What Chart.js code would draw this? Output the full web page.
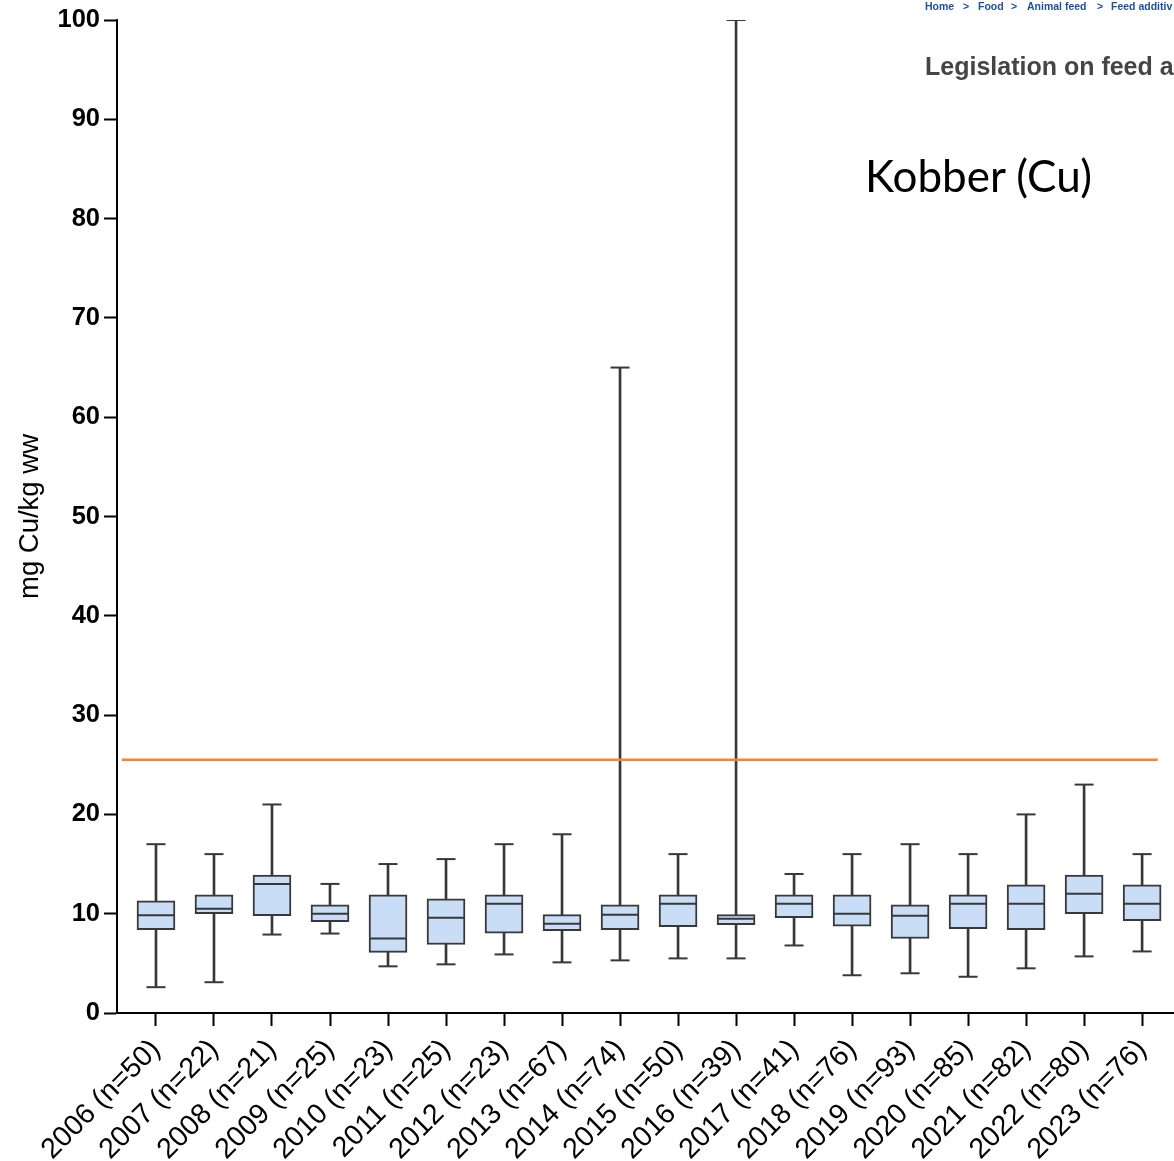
<!DOCTYPE html>
<html><head><meta charset="utf-8">
<script src="https://cdn.jsdelivr.net/npm/chart.js@4/dist/chart.umd.min.js"></script>
<style>
html,body{margin:0;padding:0;background:#fff;overflow:hidden}
#wrap{position:relative;width:1174px;height:1161px;overflow:hidden}
#c{position:absolute;left:0;top:0}
.ov{position:absolute;white-space:nowrap;line-height:1}
.bc{font-family:"Liberation Sans",Arial,sans-serif;font-weight:bold;font-size:10.5px;color:#1d4f9b;top:1px}
</style></head><body>
<div id="wrap">
<canvas id="c" width="1174" height="1161"></canvas>
<div class="ov bc" style="left:925px">Home</div>
<div class="ov bc" style="left:963px">&gt;</div>
<div class="ov bc" style="left:978px">Food</div>
<div class="ov bc" style="left:1011px">&gt;</div>
<div class="ov bc" style="left:1027px">Animal feed</div>
<div class="ov bc" style="left:1097px">&gt;</div>
<div class="ov bc" style="left:1111px">Feed additiv</div>
<div class="ov" style="left:925px;top:54px;font-family:'Liberation Sans',Arial,sans-serif;font-weight:bold;font-size:25px;color:#454545">Legislation on feed a</div>
<div class="ov" style="left:865px;top:153px;font-family:Lato,'Open Sans',sans-serif;font-size:44px;color:#000">Kobber (Cu)</div>
</div>
<script>
const categories = ['2006 (n=50)','2007 (n=22)','2008 (n=21)','2009 (n=25)','2010 (n=23)','2011 (n=25)','2012 (n=23)','2013 (n=67)','2014 (n=74)','2015 (n=50)','2016 (n=39)','2017 (n=41)','2018 (n=76)','2019 (n=93)','2020 (n=85)','2021 (n=82)','2022 (n=80)','2023 (n=76)'];
const whiskerLow  = [2.6, 3.1, 7.9, 8.0, 4.7, 4.9, 5.9, 5.1, 5.3, 5.5, 5.5, 6.8, 3.8, 4.0, 3.65, 4.5, 5.7, 6.2];
const q1          = [8.4, 10.0, 9.8, 9.2, 6.1, 6.9, 8.05, 8.3, 8.4, 8.7, 8.9, 9.6, 8.75, 7.5, 8.5, 8.4, 10.0, 9.3];
const median      = [9.85, 10.5, 13.0, 10.0, 7.5, 9.6, 11.0, 9.0, 9.9, 11.0, 9.5, 11.0, 10.0, 9.8, 11.0, 11.0, 12.0, 11.0];
const q3          = [11.3, 11.9, 13.9, 10.9, 11.9, 11.5, 11.9, 9.9, 10.9, 11.9, 9.9, 11.9, 11.9, 10.9, 11.9, 12.9, 13.9, 12.9];
const whiskerHigh = [17, 16, 21, 13, 15, 15.5, 17, 18, 65, 16, 100, 14, 16, 17, 16, 20, 23, 16];
const limitValue = 25.5;
const limitRange = [-0.59, 17.27];
const yTicks = [0,10,20,30,40,50,60,70,80,90,100];

const FONT = "'Liberation Sans', Arial, sans-serif";
const EDGE = '#383838';
const FILL = '#c9ddf7';

const idx = categories.map((_, i) => i);

new Chart(document.getElementById('c'), {
  type: 'bar',
  data: {
    datasets: [
      {
        type: 'line', label: 'limit',
        data: limitRange.map(x => ({x, y: limitValue})),
        borderColor: '#f0862e', borderWidth: 2.5, pointRadius: 0, order: 0
      },
      {
        type: 'line', label: 'median',
        data: idx.map(i => ({x: i, y: median[i]})),
        showLine: false, pointStyle: 'line', pointRadius: 18.5,
        pointBorderWidth: 2, borderColor: EDGE, pointBorderColor: EDGE, order: 0
      },
      {
        type: 'bar', label: 'box',
        data: idx.map(i => ({x: i, y: [q1[i], q3[i]]})),
        backgroundColor: FILL, borderColor: EDGE, borderWidth: 2,
        borderSkipped: false, barThickness: 38, grouped: false, order: 1
      },
      {
        type: 'line', label: 'caps',
        data: idx.map(i => ({x: i, y: whiskerLow[i]})).concat(idx.map(i => ({x: i, y: whiskerHigh[i]}))),
        showLine: false, pointStyle: 'line', pointRadius: 9.5,
        pointBorderWidth: 2, borderColor: EDGE, pointBorderColor: EDGE, order: 2
      },
      {
        type: 'bar', label: 'whisker',
        data: idx.map(i => ({x: i, y: [whiskerLow[i], whiskerHigh[i]]})),
        backgroundColor: EDGE, borderWidth: 0, barThickness: 2, grouped: false, order: 3
      }
    ]
  },
  options: {
    responsive: false,
    animation: false,
    events: [],
    layout: { autoPadding: false, padding: { top: 20, left: 0, right: 0, bottom: 0 } },
    plugins: { legend: { display: false }, tooltip: { enabled: false } },
    scales: {
      x: {
        type: 'linear', min: -0.672, max: 17.55, offset: false,
        afterBuildTicks: s => { s.ticks = idx.map(i => ({value: i})); },
        ticks: {
          autoSkip: false, maxRotation: 45, minRotation: 45, color: '#000', padding: 7,
          font: { family: FONT, size: 28.5 },
          callback: v => categories[Math.round(v)]
        },
        grid: { display: true, offset: false, drawOnChartArea: false, drawTicks: true, tickLength: 13, tickColor: '#000', tickWidth: 2 },
        border: { display: true, color: '#000', width: 2 },
        afterFit: s => { s.height = 148; s.paddingLeft = 0; s.paddingRight = 0; }
      },
      y: {
        type: 'linear', min: 0, max: 100,
        afterBuildTicks: s => { s.ticks = yTicks.map(v => ({value: v})); },
        ticks: { color: '#000', padding: 4, font: { family: FONT, size: 25.5, weight: 'bold' } },
        grid: { display: true, drawOnChartArea: false, drawTicks: true, tickLength: 13, tickColor: '#000', tickWidth: 2 },
        border: { display: true, color: '#000', width: 2 },
        title: { display: true, text: 'mg Cu/kg ww', color: '#000', font: { family: FONT, size: 27.5 }, padding: { top: 14, bottom: 0 } },
        afterFit: s => { s.width = 117; }
      }
    }
  }
});
</script>
</body></html>
